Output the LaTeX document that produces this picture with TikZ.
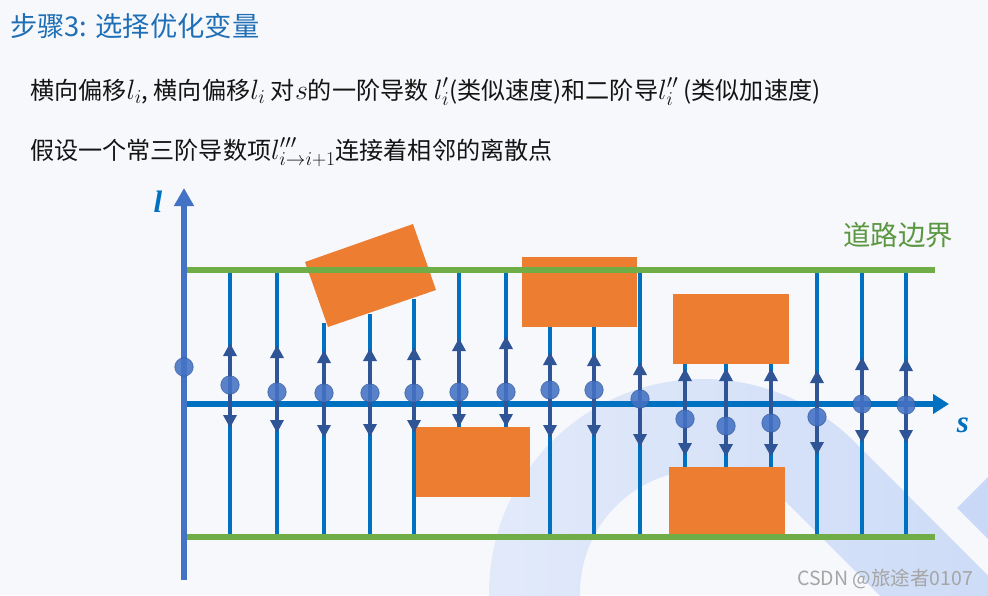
\RequirePackage{fix-cm}
\documentclass[tikz,border=0pt]{standalone}
\usepackage{fontspec}
\setmainfont{Noto Sans CJK SC}
\newfontfamily\serifbi{Liberation Serif}
\usetikzlibrary{arrows.meta}
\newcommand\mth[1]{{\fontsize{28}{28}\selectfont$#1$}}
\definecolor{bgc}{RGB}{247,248,252}
\definecolor{decoA}{RGB}{226,234,250}
\definecolor{decoB}{RGB}{200,216,246}
\definecolor{obst}{HTML}{ED7D31}
\definecolor{road}{HTML}{70AD47}
\definecolor{roadtxt}{HTML}{5B9740}
\definecolor{vblue}{HTML}{0070C0}
\definecolor{darr}{HTML}{2F5597}
\definecolor{dotc}{HTML}{4472C4}
\definecolor{titlec}{HTML}{1F6FB6}
\definecolor{txtc}{RGB}{20,20,20}
\definecolor{wm}{RGB}{165,165,165}
\tikzset{
  obstacle/.style={fill=obst,draw=none},
  roadline/.style={draw=road,line width=5.5pt},
  vline/.style={draw=vblue,line width=3.4pt},
  dblarrow/.style={draw=darr,line width=4.3pt,
    {Triangle[width=13pt,length=13pt]}-{Triangle[width=13pt,length=13pt]}},
  ptdot/.style={circle,minimum size=18.5pt,inner sep=0pt,fill=dotc,fill opacity=0.88,draw=darr,draw opacity=0.6,line width=0.8pt},
  axisline/.style={line width=6pt},
  axlabel/.style={text=vblue,font=\serifbi\bfseries\itshape\fontsize{31}{31}\selectfont,inner sep=0pt},
  bodytext/.style={anchor=base west,inner sep=0pt,text=txtc,font=\fontsize{24.1}{27}\selectfont}
}
\begin{document}
\begin{tikzpicture}[x=1pt,y=-1pt]
\useasboundingbox (0,0) rectangle (988,595);
\fill[bgc] (0,0) rectangle (988,595);
% decorative background
\begin{scope}
\clip (0,0) rectangle (988,595);
\shade[left color=decoA,right color=decoB] (489,640) -- (489,593) arc[start angle=180,end angle=315,radius=214]
  -- (1104,692) -- (1040,756) -- (790,506) arc[start angle=315,end angle=180,radius=123] -- (580,640) -- cycle;
\fill[decoB] (957,508) -- (992,473) -- (992,543) -- cycle;
\end{scope}
% title and texts
\node[anchor=base west,inner sep=0pt,text=titlec,font=\fontsize{27.3}{31}\selectfont] (title) at (10,36) {步骤3: 选择优化变量};
\node[bodytext] (line1) at (30,99) {横向偏移\mth{l_i}, 横向偏移\mth{l_i} 对\mth{s}的一阶导数 \mth{l_i'}(类似速度)和二阶导\mth{l_i''} (类似加速度)};
\node[bodytext] (line2) at (30,159) {假设一个常三阶导数项\mth{l'''_{i\to i+1}}连接着相邻的离散点};
% obstacles
\fill[obstacle] (305,262) -- (413,224) -- (436,290) -- (328,327) -- cycle;
\fill[obstacle] (522,257) rectangle (637,327);
\fill[obstacle] (673,294) rectangle (789,364);
\fill[obstacle] (416,427) rectangle (530,497);
\fill[obstacle] (669,467) rectangle (785,534);
% vertical sampling lines, double arrows
\foreach \n/\x/\yt/\yb/\at/\ab in {
  1/230/270/537/343/428, 2/277/270/537/345/433, 3/324/323/537/350/438,
  4/370/314/537/348/437, 5/414/299/537/347/433, 6/459/270/427/338/427,
  7/506/270/427/336/427, 8/550/327/537/352/438, 9/594/327/537/353/438,
  10/640/270/537/362/447, 11/685/364/467/368/456, 12/726/364/467/368/457,
  13/771/364/467/368/457, 14/817/270/537/370/455, 15/862/270/537/357/443,
  16/906/270/537/358/443}{
  \coordinate (top\n) at (\x,\yt);
  \coordinate (bot\n) at (\x,\yb);
  \coordinate (at\n) at (\x,\at);
  \coordinate (ab\n) at (\x,\ab);
  \draw[vline] (top\n) -- (bot\n);
}
% road boundaries
\coordinate (rtl) at (184,270); \coordinate (rtr) at (935,270);
\coordinate (rbl) at (184,537); \coordinate (rbr) at (935,537);
\draw[roadline] (rtl) -- (rtr);
\draw[roadline] (rbl) -- (rbr);
\node[anchor=base west,inner sep=0pt,text=roadtxt,font=\fontsize{27.5}{31}\selectfont] (roadlabel) at (843,245) {道路边界};
% s axis
\coordinate (so) at (184,404); \coordinate (send) at (949,404);
\draw[axisline,draw=vblue,-{Triangle[width=19pt,length=16pt]}] (so) -- (send);
\node[axlabel] (slabel) at (963,425) {s};
% double arrows
\foreach \n in {1,...,16}{
  \draw[dblarrow] (at\n) -- (ab\n);
}
% l axis
\coordinate (lo) at (184,580); \coordinate (lend) at (184,188);
\draw[axisline,draw=dotc,-{Triangle[width=19pt,length=18pt]}] (lo) -- (lend);
\node[axlabel] (llabel) at (158,202) {l};
% dots
\node[ptdot] (d0) at (184,367) {};
\foreach \n/\x/\y in {1/230/385, 2/277/392, 3/324/393, 4/370/393, 5/414/393, 6/459/392,
  7/506/392, 8/550/390, 9/594/390, 10/640/399, 11/685/419, 12/726/426, 13/771/423,
  14/817/417, 15/862/404, 16/906/405}{
  \node[ptdot] (d\n) at (\x,\y) {};
}
% watermark
\node[anchor=base west,inner sep=0pt,text=wm,font=\fontsize{19.5}{21}\selectfont] (wmark) at (797,585) {CSDN @旅途者0107};
\end{tikzpicture}
\end{document}
